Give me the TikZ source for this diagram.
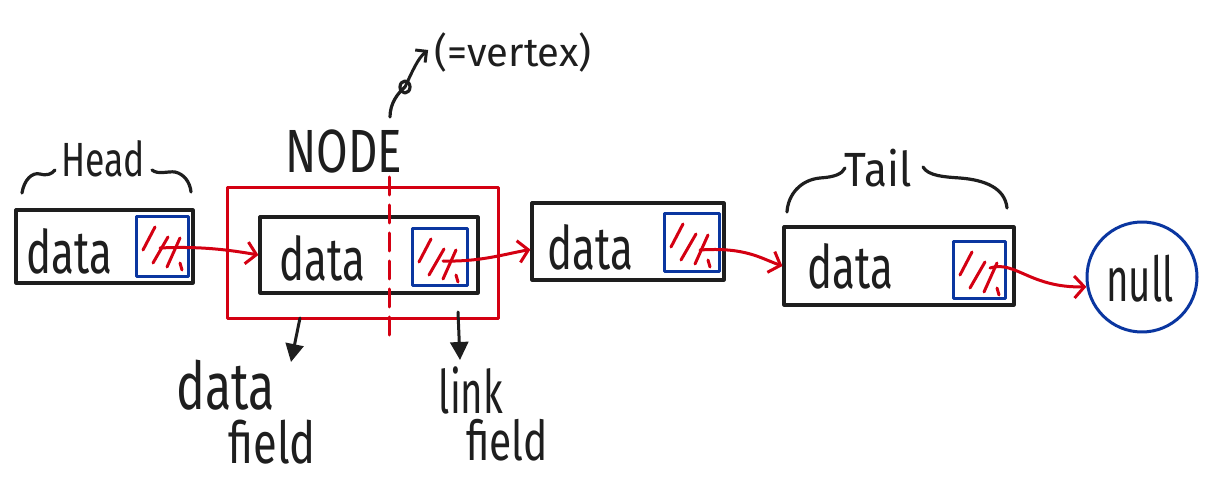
\documentclass[tikz,border=0pt]{standalone}
\usepackage{fontspec}
\setmainfont{Fira Sans}
\usetikzlibrary{arrows.meta,calc}
\definecolor{ink}{HTML}{1E1E1E}
\definecolor{redink}{HTML}{D40012}
\definecolor{blueink}{HTML}{0A36A0}
\begin{document}
\begin{tikzpicture}[x=1pt,y=-1pt,line cap=round,line join=round,
  blackbox/.style={draw=ink,line width=3.2pt,inner sep=0pt},
  redbox/.style={draw=redink,line width=3pt,inner sep=0pt},
  hatchline/.style={draw=redink,line width=3pt},
  linkbox/.style={draw=blueink,line width=3pt,inner sep=0pt,
    path picture={
      \coordinate (nw) at (path picture bounding box.north west);
      \draw[hatchline] ($(nw)+(7,33)$) -- ($(nw)+(19,10)$);
      \draw[hatchline] ($(nw)+(17,46)$) -- ($(nw)+(32,20)$);
      \draw[hatchline] ($(nw)+(31,50)$) -- ($(nw)+(44,21)$);
      \draw[hatchline] ($(nw)+(44,46)$) -- ($(nw)+(46,53)$);
    }},
  hand/.style={inner sep=0pt,text=ink},
  redarrow/.style={draw=redink,line width=3pt,-{Straight Barb[length=10pt,width=22pt,line width=3pt]}},
  blackarrow/.style={draw=ink,line width=3pt,-{Triangle[length=18pt,width=18pt]}},
  curve/.style={draw=ink,line width=3.2pt}
]
\useasboundingbox (0,0) rectangle (1211,489);

% Head
\node[blackbox,minimum width=177pt,minimum height=73pt] (headbox) at (104.5,246.5) {};
\node[linkbox,minimum width=52pt,minimum height=60pt] (headlink) at (162,247) {};
\node[hand,font=\fontsize{60}{60}\selectfont,xscale=0.7] (headdata) at (69,251) {data};
\node[hand,font=\fontsize{48}{48}\selectfont,xscale=0.74] (headlbl) at (103,159) {Head};
\draw[curve] (22,193) .. controls (24,180) and (32,172) .. (40,174) .. controls (47,176) and (52,174) .. (55,170);
\draw[curve] (152,170) .. controls (158,175) and (168,171) .. (175,172) .. controls (184,174) and (190,182) .. (191,192);

% NODE
\node[redbox,minimum width=271pt,minimum height=131pt] (nodebox) at (362.5,253.5) {};
\node[blackbox,minimum width=218pt,minimum height=76pt] (innerbox) at (369,255) {};
\node[linkbox,minimum width=55pt,minimum height=57pt] (nodelink) at (439.5,257.5) {};
\node[hand,font=\fontsize{60}{60}\selectfont,xscale=0.7] (nodedata) at (322,258) {data};
\node[hand,font=\fontsize{61}{61}\selectfont,xscale=0.75] (nodelbl) at (344,151) {NODE};
\coordinate (dtop) at (389,177);
\coordinate (dbot) at (389,336);
\draw[draw=redink,line width=3pt,dash pattern=on 18pt off 10pt] (dtop) -- (dbot);

% vertex remark
\node[hand,font=\fontsize{40}{40}\selectfont] (vertex) at (513,53) {(=vertex)};
\coordinate (vs) at (390,117);
\coordinate (vloop) at (405,87);
\draw[curve] (vs) .. controls (390,103) and (398,93) .. (vloop);
\draw[curve] (vloop) circle[x radius=5pt,y radius=6pt];
\draw[draw=ink,line width=3pt,-{Straight Barb[length=8pt,width=16pt,line width=3pt]}] (vloop) .. controls (412,72) and (418,58) .. ([xshift=-6pt,yshift=3pt]vertex.west);

% box 3
\node[blackbox,minimum width=192pt,minimum height=77pt] (box3) at (628,241.5) {};
\node[linkbox,minimum width=55pt,minimum height=58pt] (link3) at (691.5,243) {};
\node[hand,font=\fontsize{60}{60}\selectfont,xscale=0.7] (data3) at (590,247) {data};

% Tail
\node[blackbox,minimum width=230pt,minimum height=78pt] (tailbox) at (899,266) {};
\node[linkbox,minimum width=52pt,minimum height=57pt] (taillink) at (979,270.5) {};
\node[hand,font=\fontsize{60}{60}\selectfont,xscale=0.7] (taildata) at (850,266) {data};
\node[hand,font=\fontsize{48}{48}\selectfont,xscale=0.88] (taillbl) at (878,168) {Tail};
\draw[curve] (787,212) .. controls (788,195) and (800,180) .. (820,178) .. controls (835,177) and (842,174) .. (845,168);
\draw[curve] (923,167) .. controls (928,176) and (945,177) .. (960,178) .. controls (985,180) and (1005,188) .. (1007,208);

% null
\node[draw=blueink,line width=3pt,circle,minimum size=110pt,inner sep=0pt] (nullc) at (1142,277) {};
\node[hand,font=\fontsize{62}{62}\selectfont,xscale=0.62] (nulltxt) at (1140,279) {null};

% red pointer arrows
\coordinate (p1) at (160,248);
\coordinate (p2) at (443,261);
\coordinate (p3) at (700,250);
\coordinate (p4) at (990,268);
\draw[redarrow] (p1) .. controls (200,246) and (230,250) .. (innerbox.west);
\draw[redarrow] (p2) .. controls (480,262) and (505,254) .. ([yshift=-8pt]box3.west);
\draw[redarrow] (p3) .. controls (745,247) and (760,258) .. (tailbox.west);
\draw[redarrow] (p4) .. controls (1015,260) and (1030,288) .. (nullc.190);

% field labels
\node[hand,font=\fontsize{66}{66}\selectfont,xscale=0.73] (df1) at (226,385) {data};
\node[hand,font=\fontsize{58}{58}\selectfont,xscale=0.75] (df2) at (272,442) {field};
\node[hand,font=\fontsize{60}{60}\selectfont,xscale=0.64] (lf1) at (471,390) {link};
\node[hand,font=\fontsize{55}{55}\selectfont,xscale=0.74] (lf2) at (507,440) {field};
\coordinate (a1s) at (300,318);
\coordinate (a1e) at (291,362);
\coordinate (a2s) at (458,312);
\coordinate (a2e) at (460,360);
\draw[blackarrow] (a1s) -- (a1e);
\draw[blackarrow] (a2s) -- (a2e);
\end{tikzpicture}
\end{document}
